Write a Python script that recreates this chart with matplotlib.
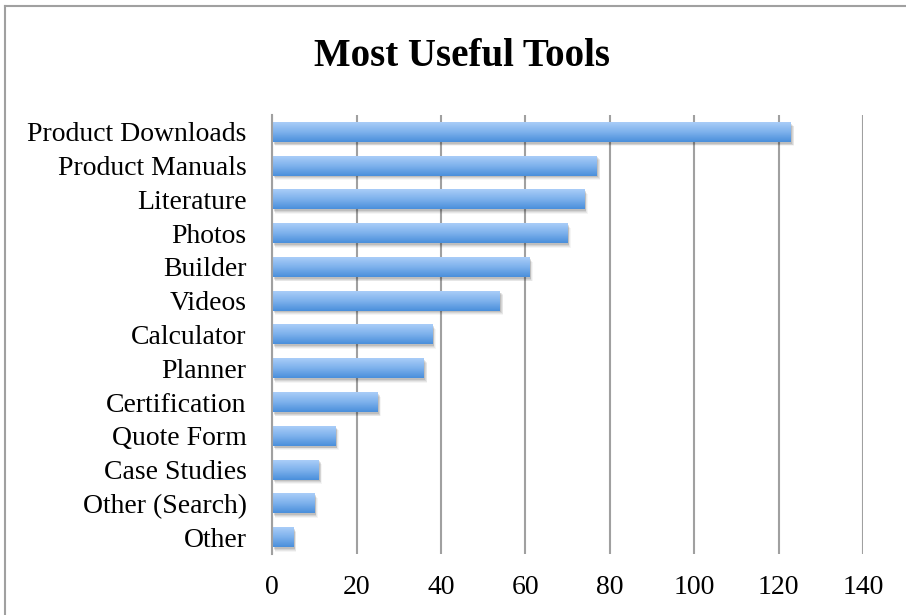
import numpy as np
import matplotlib
matplotlib.use('Agg')
import matplotlib.pyplot as plt
from matplotlib.colors import LinearSegmentedColormap
from matplotlib.lines import Line2D
from matplotlib.transforms import offset_copy

tools = ['Product Downloads', 'Product Manuals', 'Literature', 'Photos', 'Builder',
         'Videos', 'Calculator', 'Planner', 'Certification', 'Quote Form',
         'Case Studies', 'Other (Search)', 'Other']
counts = [123, 77, 74, 70, 61, 54, 38, 36, 25, 15, 11, 10, 5]
xticks = [0, 20, 40, 60, 80, 100, 120, 140]

plt.rcParams['font.family'] = ['Liberation Serif', 'DejaVu Serif']

fig = plt.figure(figsize=(9.06, 6.15), dpi=100)
ax = fig.add_axes([0.3006, 0.0992, 0.6519, 0.7138])

n = len(tools)
ypos = np.arange(n)[::-1]
h = 0.59
grad = LinearSegmentedColormap.from_list('g', ['#4a8fdb', '#7db1ec', '#a9cdf8'])
gimg = np.linspace(0, 1, 64).reshape(-1, 1)

# soft shadow under each bar
for k, a in [(2, 0.10), (3, 0.08), (4, 0.06), (5, 0.04)]:
    tr = offset_copy(ax.transData, fig=fig, x=k * 0.6, y=-k * 0.9, units='dots')
    ax.barh(ypos, counts, height=h, color='#000000', alpha=a, transform=tr,
            zorder=2, linewidth=0)

for y, v in zip(ypos, counts):
    ax.imshow(gimg, cmap=grad, aspect='auto', origin='lower',
              extent=(0, v, y - h / 2, y + h / 2), zorder=3, interpolation='bilinear')

ax.set_xlim(0, 140)
ax.set_ylim(-0.5, n - 0.5)
ax.set_yticks(ypos)
ax.set_yticklabels(tools, fontsize=20)
ax.set_xticks(xticks)
ax.set_xticklabels([str(t) for t in xticks], fontsize=20)
ax.tick_params(axis='both', length=0)
ax.tick_params(axis='x', pad=15)
ax.tick_params(axis='y', pad=18.5)

ax.grid(axis='x', color='#a0a0a0', linewidth=1.5, zorder=1)
ax.set_axisbelow(True)
for s in ['top', 'right', 'bottom']:
    ax.spines[s].set_visible(False)
ax.spines['left'].set_color('#a0a0a0')
ax.spines['left'].set_linewidth(1.5)
ax.spines['left'].set_zorder(4)

fig.text(462 / 906, 1 - 57 / 615, 'Most Useful Tools', ha='center', va='center',
         fontsize=28, fontweight='bold')

# chart frame (only left and top edges visible in the crop)
bx, by = 5 / 906, 609 / 615
fig.lines.append(Line2D([bx, bx], [0, by], transform=fig.transFigure,
                        color='#a0a0a0', linewidth=1.5))
fig.lines.append(Line2D([bx, 1], [by, by], transform=fig.transFigure,
                        color='#a0a0a0', linewidth=1.5))

fig.savefig('out.png', dpi=100)
